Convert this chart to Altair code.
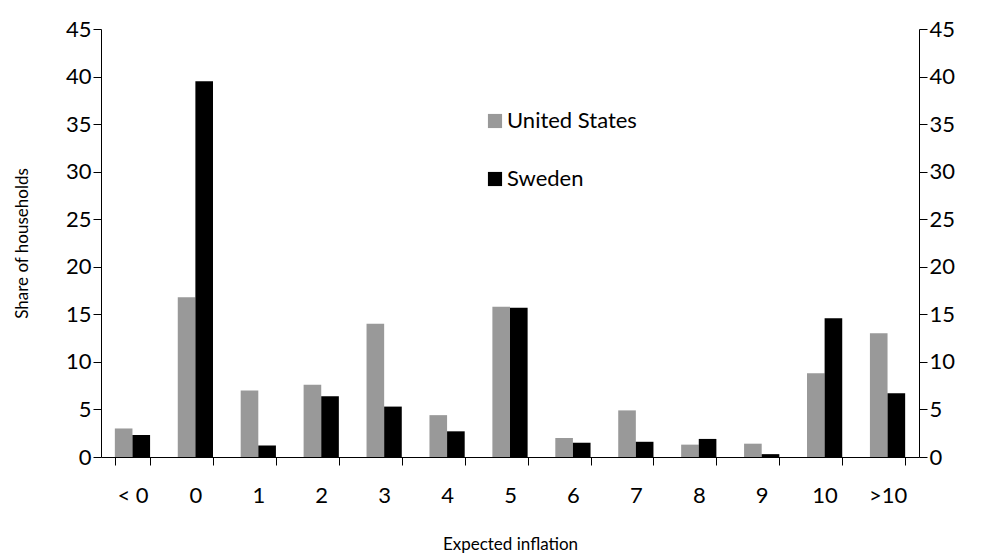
import altair as alt
import pandas as pd

cats = ["< 0", "0", "1", "2", "3", "4", "5", "6", "7", "8", "9", "10", ">10"]
us = [3.0, 16.8, 7.0, 7.6, 14.0, 4.4, 15.8, 2.0, 4.9, 1.3, 1.4, 8.8, 13.0]
se = [2.3, 39.5, 1.2, 6.4, 5.3, 2.7, 15.7, 1.5, 1.6, 1.9, 0.3, 14.6, 6.7]
series = ["United States", "Sweden"]
colors = ["#999999", "#000000"]

rows = []
for c, u, s in zip(cats, us, se):
    rows.append({"cat": c, "series": series[0], "v": u})
    rows.append({"cat": c, "series": series[1], "v": s})
df = pd.DataFrame(rows)

FONT = "Lato"
x = alt.X("cat:N", sort=cats, title="Expected inflation",
          scale=alt.Scale(paddingInner=0.44, paddingOuter=0.22),
          axis=alt.Axis(labelAngle=0, tickBand="extent", labelFontSize=22, titleFontSize=17,
                        labelPadding=20, titlePadding=30, tickSize=8, domainColor="black",
                        tickColor="black", labelColor="black", titleColor="black",
                        titleFontWeight="normal", labelFont=FONT, titleFont=FONT))
yscale = alt.Scale(domain=[0, 45])
yax = dict(values=list(range(0, 46, 5)), labelFontSize=22, tickSize=8, grid=False,
           domainColor="black", tickColor="black", labelColor="black", labelFont=FONT,
           titleFont=FONT, titleColor="black", titleFontWeight="normal", titleFontSize=17)

bars = alt.Chart(df).mark_bar().encode(
    x=x,
    xOffset=alt.XOffset("series:N", sort=series),
    y=alt.Y("v:Q", scale=yscale, title="Share of households",
            axis=alt.Axis(orient="left", titlePadding=34, **yax)),
    color=alt.Color("series:N", sort=series,
                    scale=alt.Scale(domain=series, range=colors), legend=None),
)
right = alt.Chart(df).mark_bar(opacity=0).encode(
    x=x,
    y=alt.Y("v:Q", scale=yscale, title=None, axis=alt.Axis(orient="right", **yax)),
)

leg = []
for i, (s, col) in enumerate(zip(series, colors)):
    yy = 92 + i * 58
    leg.append(alt.Chart(pd.DataFrame({"s": [s]})).mark_square(size=200, color=col, opacity=1).encode(
        x=alt.value(394), y=alt.value(yy)))
    leg.append(alt.Chart(pd.DataFrame({"s": [s]})).mark_text(
        align="left", baseline="middle", fontSize=22, font=FONT, color="black").encode(
        x=alt.value(406), y=alt.value(yy), text="s:N"))

chart = alt.layer(bars, right, *leg).resolve_scale(y="independent").properties(
    width=818, height=428,
    padding={"top": -87, "left": 5, "right": 5, "bottom": 5}
).configure_view(stroke=None)

chart.save("out.html", embed_options={"renderer": "svg", "actions": False})
